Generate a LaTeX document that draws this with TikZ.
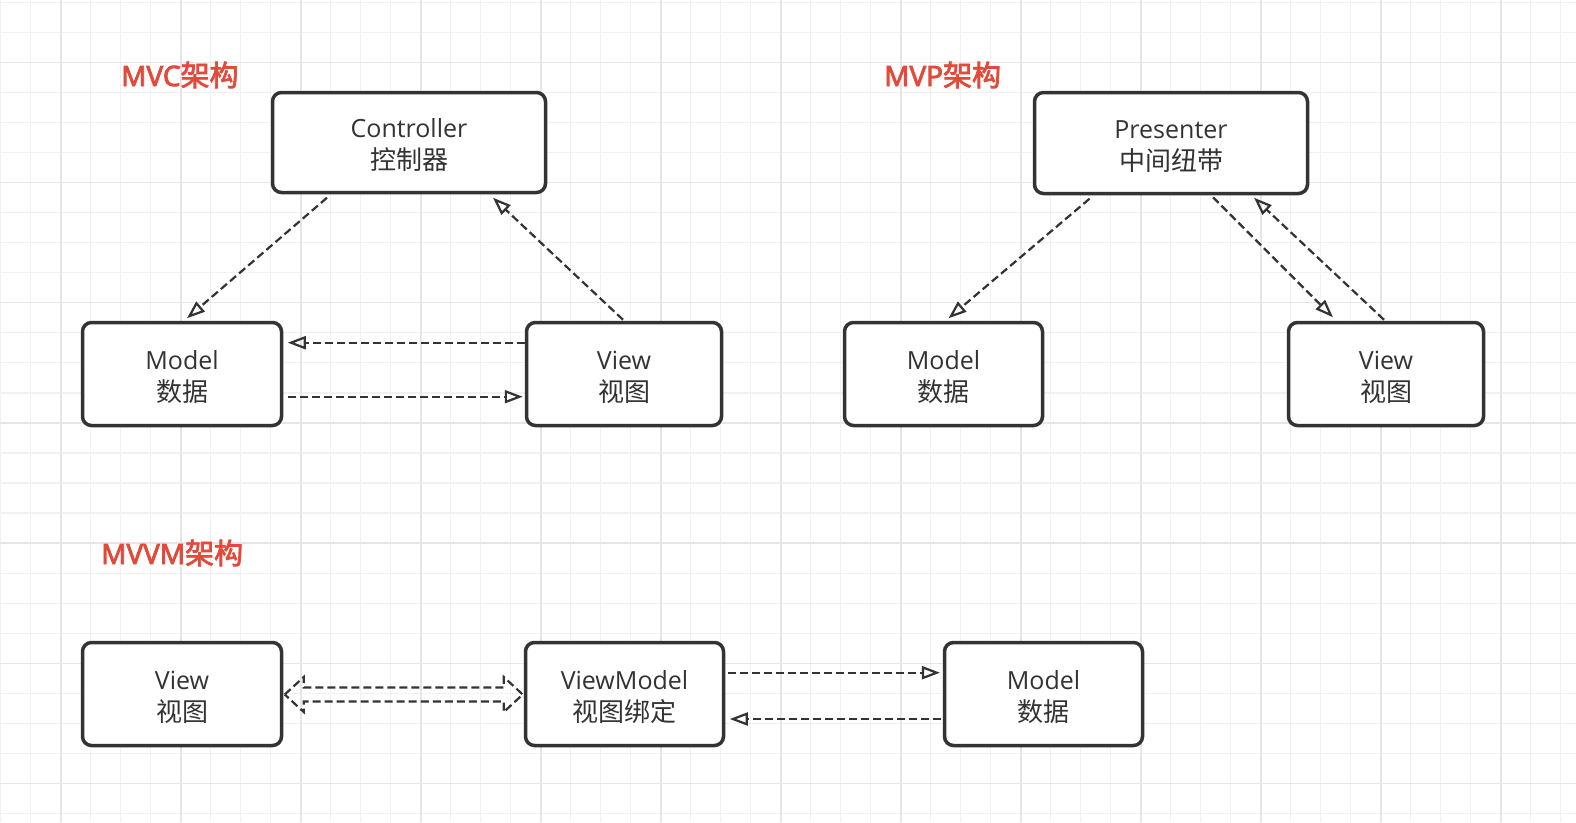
\documentclass[tikz,border=0pt]{standalone}
\usepackage{fontspec}
\setmainfont{Open Sans}
\newfontfamily\cjk{Noto Sans CJK SC}
\newfontfamily\ttlat[FakeBold=3.2]{Open Sans}
\newfontfamily\ttcjk[FakeBold=2.6]{Noto Sans CJK SC}
\usetikzlibrary{arrows.meta,calc}
\definecolor{ink}{HTML}{333333}
\definecolor{titlered}{HTML}{E44A3B}
\definecolor{gridminor}{HTML}{F1F1F1}
\definecolor{gridmajor}{HTML}{E6E6E6}
\newcommand\boxlabel[3]{%
  \node[lat] (#1-l1) at ($(#1.center)+(0,-5)$) {#2};
  \node[han] (#1-l2) at ($(#1.center)+(0,27)$) {#3};}
\newcommand\ttltext[2]{{\ttlat\fontsize{28}{32}\selectfont #1}{\ttcjk\fontsize{29}{32}\selectfont #2}}
\begin{document}
\begin{tikzpicture}[x=1pt,y=-1pt,
  box/.style={draw=ink, line width=3.5pt, rounded corners=9pt, fill=white, inner sep=0pt},
  conn/.style={draw=ink, line width=2.2pt, dash pattern=on 8pt off 4pt, -{Triangle[open,length=18pt,width=13pt]}},
  lat/.style={text=ink, font=\fontsize{25}{30}\selectfont, inner sep=0pt, anchor=base},
  han/.style={text=ink, font=\cjk\fontsize{26}{30}\selectfont, inner sep=0pt, anchor=base},
  ttl/.style={text=titlered, inner sep=0pt, anchor=base west},
  minorline/.style={draw=gridminor, line width=1.3pt},
  majorline/.style={draw=gridmajor, line width=1.5pt},
]
\useasboundingbox (0,0) rectangle (1576,822);
\fill[white] (0,0) rectangle (1576,822);
% grid
\foreach \i [evaluate=\i as \gx using 0.8+30*\i] in {0,...,52}
  \draw[minorline] (\gx,0) -- (\gx,822);
\foreach \j [evaluate=\j as \gy using 2.2+30.05*\j] in {0,...,27}
  \draw[minorline] (0,\gy) -- (1576,\gy);
\foreach \i [evaluate=\i as \gx using 61+120*\i] in {0,...,12}
  \draw[majorline] (\gx,0) -- (\gx,822);
\foreach \j [evaluate=\j as \gy using 62.3+120.2*\j] in {0,...,6}
  \draw[majorline] (0,\gy) -- (1576,\gy);

% titles
\node[ttl] (t1) at (121,86) {\ttltext{MVC}{架构}};
\node[ttl] (t2) at (884,86) {\ttltext{MVP}{架构}};
\node[ttl] (t3) at (101,564) {\ttltext{MVVM}{架构}};

% boxes
\node[box, minimum width=273pt, minimum height=100pt] (ctrl) at (409,142.5) {};
\node[box, minimum width=199pt, minimum height=103pt] (m1) at (182,374) {};
\node[box, minimum width=195pt, minimum height=103pt] (v1) at (624,374) {};
\node[box, minimum width=273pt, minimum height=101pt] (pres) at (1171,143) {};
\node[box, minimum width=198pt, minimum height=103pt] (m2) at (943.5,374) {};
\node[box, minimum width=195pt, minimum height=103pt] (v2) at (1386,374) {};
\node[box, minimum width=199pt, minimum height=103pt] (v3) at (182,694) {};
\node[box, minimum width=198pt, minimum height=103pt] (vm) at (624.5,694) {};
\node[box, minimum width=198pt, minimum height=103pt] (m3) at (1043.5,694) {};

\boxlabel{ctrl}{Controller}{控制器}
\boxlabel{m1}{Model}{数据}
\boxlabel{v1}{View}{视图}
\boxlabel{pres}{Presenter}{中间纽带}
\boxlabel{m2}{Model}{数据}
\boxlabel{v2}{View}{视图}
\boxlabel{v3}{View}{视图}
\boxlabel{vm}{ViewModel}{视图绑定}
\boxlabel{m3}{Model}{数据}

% MVC connectors
\draw[conn] ($(ctrl.south)+(-82,3.5)$) -- ($(m1.north)+(5,-2.5)$);
\draw[conn] ($(v1.north)+(-1,-1)$) -- ($(ctrl.south)+(84,3.5)$);
\draw[conn] ($(v1.west)+(0,-31.3)$) -- ($(m1.east)+(4.5,-31.3)$);
\draw[conn] ($(m1.east)+(4.5,22.7)$) -- ($(v1.west)+(-2,22.7)$);
% MVP connectors
\draw[conn] ($(pres.south)+(-81.5,3.5)$) -- ($(m2.north)+(5,-2.5)$);
\draw[conn] ($(pres.south)+(42,2)$) -- ($(v2.north)+(-53,-3.5)$);
\draw[conn] ($(v2.north)+(-2,-1)$) -- ($(pres.south)+(83,2.5)$);
% MVVM connectors
\draw[conn] ($(vm.east)+(3,-21.3)$) -- ($(m3.west)+(-2.8,-21.3)$);
\draw[conn] ($(m3.west)+(-1.5,25)$) -- ($(vm.east)+(4.5,25)$);
\coordinate (dl) at ($(v3.east)+(1.5,0.5)$);
\coordinate (dr) at ($(vm.west)+(-1,0.5)$);
\draw[draw=ink, line width=2.2pt, dash pattern=on 8pt off 4pt, line join=miter]
  (dl) -- ++(19,-17.5) -- ++(0,10.5) -- ($(dr)+(-19,-7)$) -- ++(0,-10.5) -- (dr)
  -- ++(-19,17.5) -- ++(0,-10.5) -- ($(dl)+(19,7)$) -- ++(0,10.5) -- cycle;
\end{tikzpicture}
\end{document}
